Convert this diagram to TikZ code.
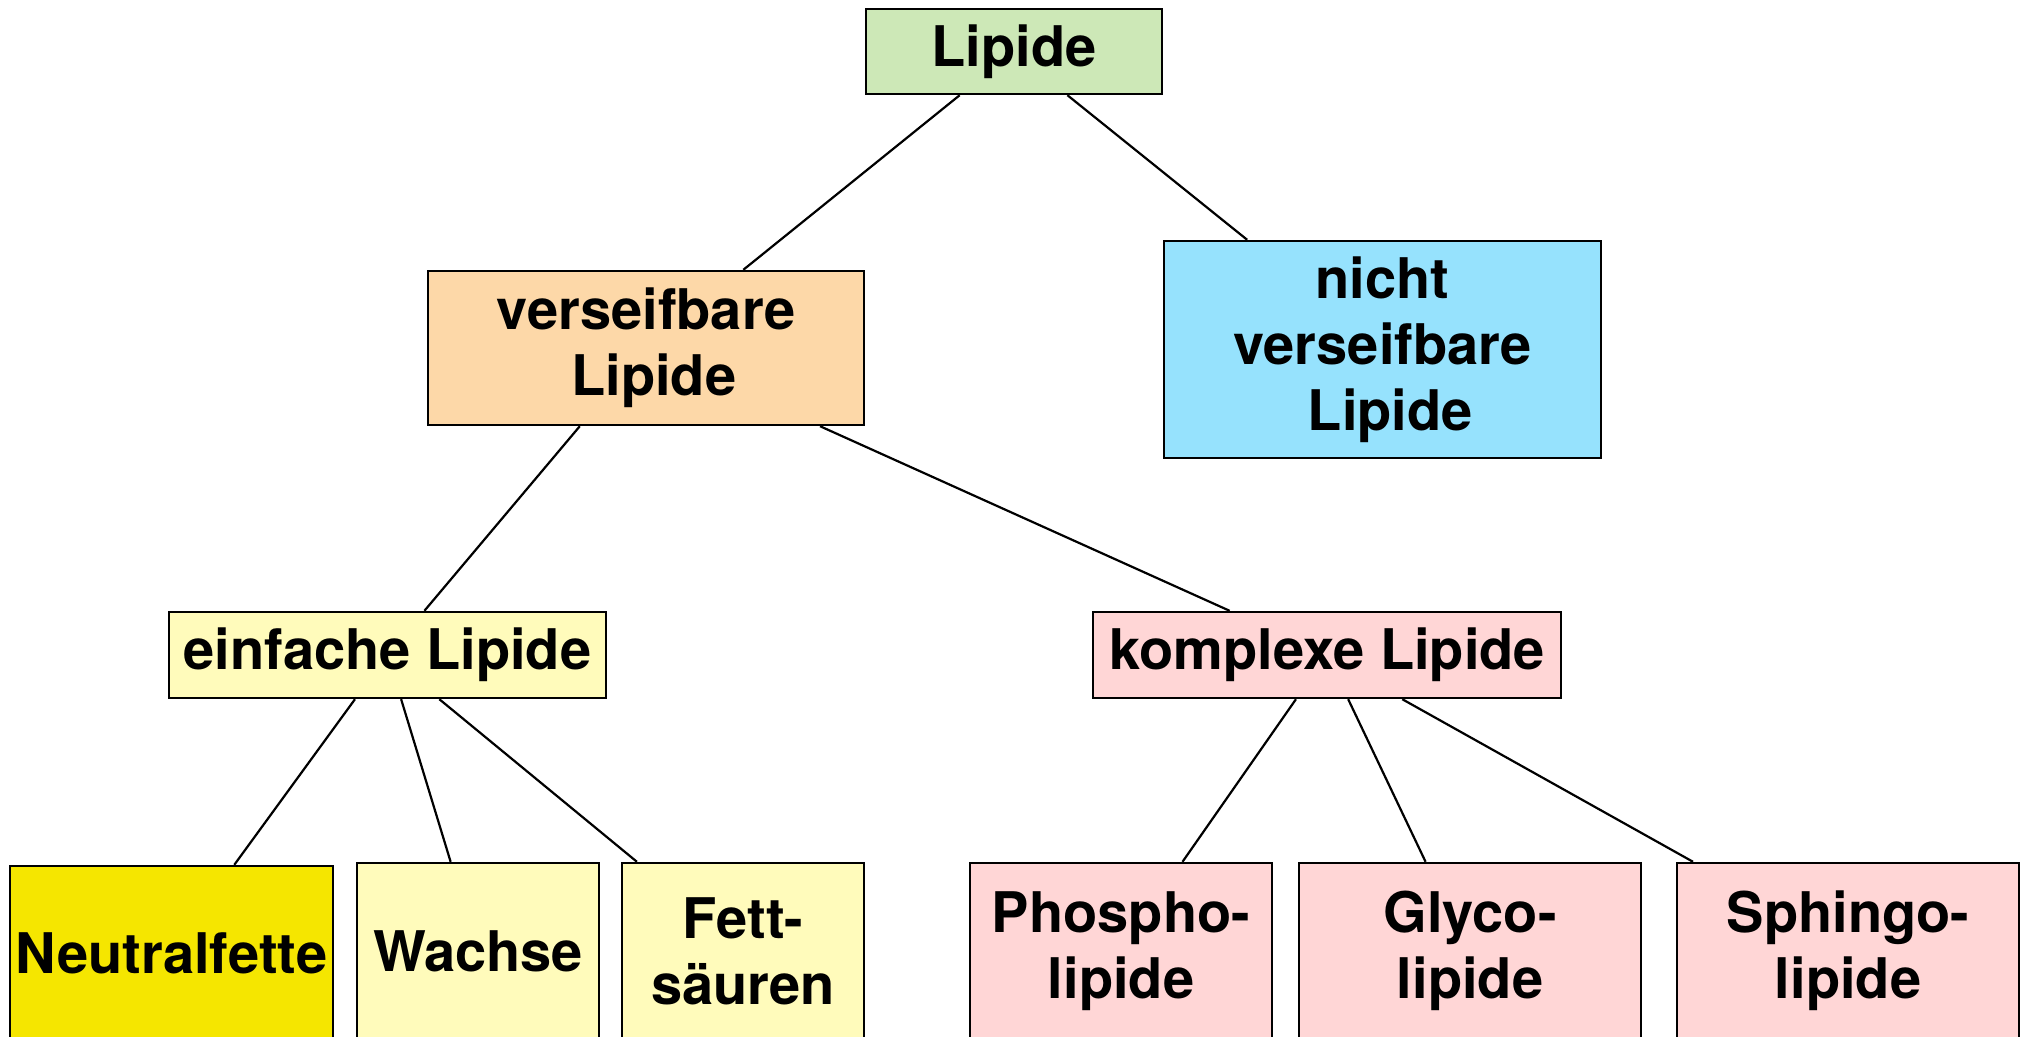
\documentclass[tikz,border=0pt]{standalone}
\usepackage{fontspec}
\setmainfont{TeX Gyre Heros}
\usetikzlibrary{calc}

\definecolor{cRoot}{HTML}{CDE8B7}
\definecolor{cSap}{HTML}{FDD8A8}
\definecolor{cNonSap}{HTML}{96E2FD}
\definecolor{cSimple}{HTML}{FFFBBB}
\definecolor{cComplex}{HTML}{FFD6D6}
\definecolor{cNeutral}{HTML}{F5E600}

\tikzset{
  box/.style={draw=black, line width=2.4pt, inner sep=0pt, align=center,
    font=\fontsize{56}{66}\selectfont\bfseries},
  link/.style={line width=2.2pt, black},
}
% a leading word space, kept at the start of a line
\newcommand{\lead}{\hspace*{0.278em}}

\begin{document}
\begin{tikzpicture}[x=1pt, y=-1pt]
\useasboundingbox (0,0) rectangle (2026,1036);
\begin{scope}
\clip (0,0) rectangle (2026,1036);

% top level
\node[box, fill=cRoot, minimum width=296pt, minimum height=85pt] (lip) at (1014,51.5) {Lipide};

% second level
\node[box, fill=cSap, minimum width=436pt, minimum height=154pt] (sap) at (646,348) {verseifbare\\\lead Lipide};
\node[box, fill=cNonSap, minimum width=437pt, minimum height=217pt] (nsap) at (1382.5,349.5) {nicht\\verseifbare\\\lead Lipide};

% third level
\node[box, fill=cSimple, minimum width=437pt, minimum height=86pt] (simp) at (387.5,655) {einfache Lipide};
\node[box, fill=cComplex, minimum width=468pt, minimum height=86pt] (comp) at (1327,655) {komplexe Lipide};

% leaves (cut by the lower edge)
\node[box, fill=cNeutral, minimum width=323pt, minimum height=174pt] (neut) at (171.5,953) {Neutralfette};
\node[box, fill=cSimple, minimum width=242pt, minimum height=176pt] (wax) at (478,951) {Wachse};
\node[box, fill=cSimple, minimum width=242pt, minimum height=176pt] (fat) at (743,951) {Fett-\\säuren};
\node[box, fill=cComplex, minimum width=302pt, minimum height=176pt] (phos) at (1121,951) {Phospho-\\lipide};
\node[box, fill=cComplex, minimum width=342pt, minimum height=176pt] (glyc) at (1470,951) {Glyco-\\lipide};
\node[box, fill=cComplex, minimum width=342pt, minimum height=176pt] (sphi) at (1848,951) {Sphingo-\\lipide};

% connectors
\draw[link] ($(lip.south west)!0.318!(lip.south east)$) -- ($(sap.north west)!0.722!(sap.north east)$);
\draw[link] ($(lip.south west)!0.679!(lip.south east)$) -- ($(nsap.north west)!0.192!(nsap.north east)$);
\draw[link] ($(sap.south west)!0.349!(sap.south east)$) -- ($(simp.north west)!0.584!(simp.north east)$);
\draw[link] ($(sap.south west)!0.897!(sap.south east)$) -- ($(comp.north west)!0.293!(comp.north east)$);
\draw[link] ($(simp.south west)!0.426!(simp.south east)$) -- ($(neut.north west)!0.693!(neut.north east)$);
\draw[link] ($(simp.south west)!0.531!(simp.south east)$) -- ($(wax.north west)!0.388!(wax.north east)$);
\draw[link] ($(simp.south west)!0.618!(simp.south east)$) -- ($(fat.north west)!0.066!(fat.north east)$);
\draw[link] ($(comp.south west)!0.434!(comp.south east)$) -- ($(phos.north west)!0.702!(phos.north east)$);
\draw[link] ($(comp.south west)!0.545!(comp.south east)$) -- ($(glyc.north west)!0.371!(glyc.north east)$);
\draw[link] ($(comp.south west)!0.660!(comp.south east)$) -- ($(sphi.north west)!0.050!(sphi.north east)$);
\end{scope}
\end{tikzpicture}
\end{document}
